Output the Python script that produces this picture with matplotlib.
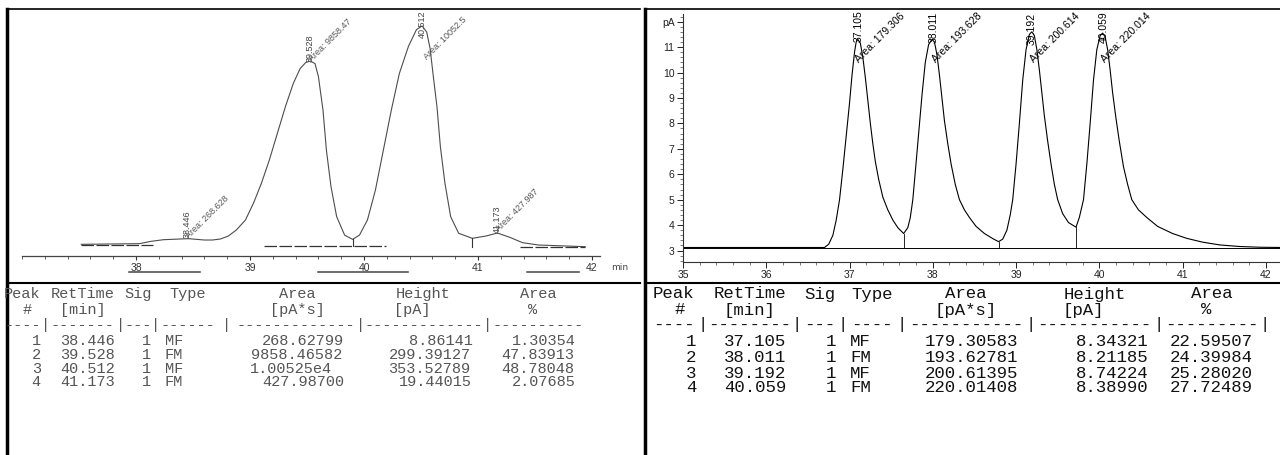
import re
import numpy as np
import matplotlib.pyplot as plt
from matplotlib.lines import Line2D
from matplotlib.ticker import MultipleLocator


# ---- left chromatogram (scanned trace, pA) ----
left_x = [37.52, 38.03, 38.13, 38.24, 38.38, 38.46, 38.53, 38.60, 38.67, 38.74,
          38.81, 38.88, 38.96, 39.03, 39.10, 39.17, 39.24, 39.31, 39.38, 39.44,
          39.49, 39.53, 39.57, 39.60, 39.64, 39.67, 39.71, 39.76, 39.83, 39.90,
          39.96, 40.03, 40.10, 40.17, 40.24, 40.31, 40.39, 40.46, 40.51, 40.55,
          40.58, 40.61, 40.64, 40.67, 40.71, 40.76, 40.83, 40.95, 41.07, 41.17,
          41.28, 41.39, 41.53, 41.94]
left_y = [1.1, 2.2, 5.9, 8.6, 9.7, 10.3, 9.2, 8.1, 8.1, 9.7,
          14.6, 24.3, 40.5, 67.6, 100, 138, 181, 224, 262, 286,
          296, 298, 294, 273, 219, 154, 95, 46, 16, 9.2,
          16, 40.5, 89, 154, 219, 278, 322, 349, 355, 345,
          318, 270, 224, 159, 100, 46, 19, 10.8, 14.6, 19.4,
          12.4, 3.8, 0.0, -2.7]

left_rt = [38.446, 39.528, 40.512, 41.173]
left_type = ['MF', 'FM', 'MF', 'FM']
left_area = [268.62799, 9858.46582, 10052.5, 427.98700]
left_height = [8.86141, 299.39127, 353.52789, 19.44015]
left_pct = [1.30354, 47.83913, 48.78048, 2.07685]

# integration baselines, drop lines and scan marks (left)
left_base_x0 = [37.52, 39.12, 41.37]
left_base_x1 = [38.15, 40.19, 41.94]
left_base_y = [0.5, -1.6, -2.7]
left_drop_x = [39.90, 40.95]
left_drop_top = [9.2, 10.8]
left_drop_bot = [-1.6, -3.0]
scan_x0 = [37.94, 39.60, 41.43]
scan_x1 = [38.56, 40.39, 41.89]

# label anchors (left)
left_rt_lbl_y = [11, 297, 335, 19]
left_area_lbl_x = [38.48, 39.56, 40.565, 41.20]
left_area_lbl_y = [8, 294, 297, 19]

# ---- right chromatogram (pA) ----
right_x = [35.0, 36.0, 36.70, 36.75, 36.80, 36.84, 36.88, 36.92, 36.96, 37.00,
           37.03, 37.06, 37.08, 37.10, 37.13, 37.16, 37.19, 37.22, 37.25, 37.28,
           37.31, 37.35, 37.40, 37.46, 37.52, 37.58, 37.65,
           37.70, 37.73, 37.76, 37.79, 37.83, 37.87, 37.91, 37.95, 37.99, 38.02,
           38.05, 38.08, 38.11, 38.14, 38.18, 38.22, 38.27, 38.32, 38.38, 38.44,
           38.52, 38.62, 38.72, 38.79,
           38.84, 38.89, 38.93, 38.96, 39.00, 39.04, 39.08, 39.12, 39.16, 39.19,
           39.22, 39.25, 39.28, 39.31, 39.34, 39.38, 39.42, 39.46, 39.50, 39.56,
           39.63, 39.72,
           39.76, 39.81, 39.85, 39.89, 39.93, 39.97, 40.01, 40.04, 40.07, 40.10,
           40.13, 40.16, 40.20, 40.24, 40.29, 40.34, 40.39, 40.47, 40.57, 40.70,
           40.88, 41.05, 41.24, 41.45, 41.68, 41.93, 42.2]
right_y = [3.12, 3.12, 3.12, 3.25, 3.6, 4.2, 5.0, 6.2, 7.5, 8.8,
           9.9, 10.8, 11.2, 11.3, 11.15, 10.6, 9.8, 8.9, 8.0, 7.2,
           6.5, 5.8, 5.1, 4.6, 4.2, 3.9, 3.67,
           3.9, 4.3, 5.0, 6.1, 7.6, 9.1, 10.4, 11.1, 11.3, 11.2,
           10.7, 9.9, 9.0, 8.1, 7.2, 6.4, 5.6, 5.0, 4.6, 4.3,
           3.95, 3.67, 3.47, 3.35,
           3.45, 3.8, 4.4, 5.0, 6.4, 8.0, 9.7, 10.9, 11.5, 11.6,
           11.45, 10.9, 10.1, 9.2, 8.3, 7.3, 6.4, 5.6, 5.0, 4.45,
           4.1, 3.92,
           4.3, 5.0, 6.4, 8.0, 9.7, 10.9, 11.45, 11.55, 11.4, 10.9,
           10.1, 9.2, 8.2, 7.3, 6.3, 5.6, 5.0, 4.6, 4.3, 3.95,
           3.67, 3.48, 3.33, 3.22, 3.16, 3.13, 3.12]

right_rt = [37.105, 38.011, 39.192, 40.059]
right_type = ['MF', 'FM', 'MF', 'FM']
right_area = [179.30583, 193.62781, 200.61395, 220.01408]
right_height = [8.34321, 8.21185, 8.74224, 8.38990]
right_pct = [22.59507, 24.39984, 25.28020, 27.72489]

right_base = 3.12
right_drop_x = [37.65, 38.79, 39.72]
right_drop_top = [3.67, 3.35, 3.92]

right_rt_lbl_y = [11.2, 11.15, 11.1, 11.15]
right_area_lbl_x = [37.13, 38.05, 39.23, 40.08]
right_area_lbl_y = [10.3, 10.3, 10.3, 10.3]


W, H = 1280, 455
fig = plt.figure(figsize=(W / 100, H / 100), dpi=100)


def fx(x):
    return x / W


def fy(y):
    return 1 - y / H


def frame_line(x0, y0, x1, y1, lw):
    fig.add_artist(Line2D([fx(x0), fx(x1)], [fy(y0), fy(y1)], color='black', lw=lw))


def fmt_area(a):
    if a < 1e4:
        return f"{a:10.5f}"
    e = int(np.floor(np.log10(a)))
    return f"{a / 10 ** e:.5f}e{e}".ljust(10)


def draw_table(col_px, ys, rts, types, areas, heights, pcts, fs, color, close_bar):
    # col_px maps a character column of the report to a pixel position
    cw = 0.6 * fs * 100 / 72
    lines = ["Peak RetTime Sig Type    Area      Height     Area  ",
             "  #   [min]             [pA*s]     [pA]        %   ",
             "----|-------|---|----|----------|----------|--------" + ("|" if close_bar else "")]
    for i in range(len(rts)):
        lines.append(f"{i + 1:4d} {rts[i]:7.3f} {1:3d} {types[i]:<4s} {fmt_area(areas[i])} "
                     f"{heights[i]:10.5f} {pcts[i]:8.5f}")
    for line, y in zip(lines, ys):
        for m in re.finditer(r'-+|[^\s-]+', line):
            tok = m.group()
            xa, xb = col_px(m.start()), col_px(m.end())
            if tok[0] == '-':
                tok = '-' * max(1, int(round((xb - xa) / cw)))
            fig.text(fx((xa + xb) / 2), fy(y), tok, ha='center', va='center', fontsize=fs,
                     family='Liberation Mono', color=color)


# ---- frames ----
frame_line(7, 9, 7, 455, 2.5)
frame_line(7, 9, 640, 9, 1.2)
frame_line(7, 283, 640, 283, 1.5)
frame_line(645, 9, 645, 455, 2.5)
frame_line(645, 9, 1280, 9, 1.2)
frame_line(645, 283, 1280, 283, 1.5)

# ---- left chromatogram ----
axl = fig.add_axes([fx(22), fy(280), (600 - 22) / W, (280 - 12) / H])
axl.set_xlim(37.0, 42.07)
axl.set_ylim(-56.7, 377.6)
axl.plot(left_x, left_y, color='#4d4d4d', lw=0.8)
for k in range(len(left_base_x0)):
    axl.plot([left_base_x0[k], left_base_x1[k]], [left_base_y[k], left_base_y[k]],
             color='#333333', lw=0.9, ls=(0, (10, 2)))
for k in range(len(left_drop_x)):
    axl.plot([left_drop_x[k], left_drop_x[k]], [left_drop_top[k], left_drop_bot[k]],
             color='#333333', lw=0.8)
for k in range(len(scan_x0)):
    axl.plot([scan_x0[k], scan_x1[k]], [-44, -44], color='#444444', lw=1.1, clip_on=False)
for k in range(len(left_rt)):
    axl.text(left_rt[k], left_rt_lbl_y[k], f"{left_rt[k]:.3f}", rotation=90,
             ha='center', va='bottom', fontsize=6.5, color='#444444', family='Liberation Sans')
    axl.text(left_area_lbl_x[k], left_area_lbl_y[k], f"Area: {left_area[k]:.6g}", rotation=45,
             rotation_mode='anchor', ha='left', va='bottom', fontsize=6.5, color='#555555',
             family='Liberation Sans')
for s in ['top', 'right', 'left']:
    axl.spines[s].set_visible(False)
axl.spines['bottom'].set_position(('data', -17.8))
axl.spines['bottom'].set_color('#444444')
axl.spines['bottom'].set_linewidth(0.9)
axl.set_yticks([])
axl.set_xticks([38, 39, 40, 41, 42])
axl.xaxis.set_minor_locator(MultipleLocator(0.2))
axl.tick_params(axis='x', which='major', direction='out', length=3, width=0.8, pad=2,
                labelsize=7.5, colors='#333333')
axl.tick_params(axis='x', which='minor', direction='out', length=2, width=0.6, colors='#444444')
for lab in axl.get_xticklabels():
    lab.set_family('Liberation Sans')
axl.text(42.24, -35.7, 'min', ha='center', va='center', fontsize=6.5, color='#444444',
         clip_on=False)
axl.patch.set_visible(False)

# ---- right chromatogram ----
axr = fig.add_axes([fx(683), fy(262), (W - 683) / W, (262 - 14) / H])
axr.set_xlim(35, 42.17)
axr.set_ylim(2.55, 12.3)
axr.plot(right_x, right_y, color='black', lw=0.8)
axr.plot([35, 42.17], [right_base, right_base], color='black', lw=0.7)
for k in range(len(right_drop_x)):
    axr.plot([right_drop_x[k], right_drop_x[k]], [right_base, right_drop_top[k]],
             color='black', lw=0.6)
for k in range(len(right_rt)):
    axr.text(right_rt[k], right_rt_lbl_y[k], f"{right_rt[k]:.3f}", rotation=90,
             ha='center', va='bottom', fontsize=7.5, family='Liberation Sans', clip_on=False)
    axr.text(right_area_lbl_x[k], right_area_lbl_y[k], f"Area: {right_area[k]:.6g}",
             rotation=45, rotation_mode='anchor', ha='left', va='bottom', fontsize=7.5,
             family='Liberation Sans', clip_on=False)
axr.spines['top'].set_visible(False)
axr.spines['right'].set_visible(False)
for s in ['left', 'bottom']:
    axr.spines[s].set_color('#333333')
    axr.spines[s].set_linewidth(0.8)
axr.set_xticks(range(35, 43))
axr.set_yticks(range(3, 13))
axr.set_yticklabels([str(v) for v in range(3, 12)] + ['pA'])
axr.xaxis.set_minor_locator(MultipleLocator(0.2))
axr.yaxis.set_minor_locator(MultipleLocator(0.2))
axr.tick_params(which='major', direction='out', length=4, width=0.7, labelsize=7.5,
                colors='#222222', pad=2)
axr.tick_params(which='minor', direction='out', length=2, width=0.5, colors='#444444')
for lab in axr.get_xticklabels() + axr.get_yticklabels():
    lab.set_family('Liberation Sans')
axr.patch.set_visible(False)

# ---- tables ----
# the scanned (left) report is unevenly stretched, so its columns follow a bent grid
left_cols = lambda c: float(np.interp(c, [0, 5, 13, 17, 21, 22, 23, 36, 45, 52],
                                      [4, 50, 125, 160, 216, 238, 252, 400, 505, 583]))
right_cols = lambda c: 650 + c * 11.7
draw_table(left_cols, [294, 310, 325, 341, 355, 369, 382],
           left_rt, left_type, left_area, left_height, left_pct, 11, '#555555', False)
draw_table(right_cols, [294, 310, 325, 342, 357, 373, 388],
           right_rt, right_type, right_area, right_height, right_pct, 12.5, '#111111', True)

fig.savefig('out.png', dpi=100)
